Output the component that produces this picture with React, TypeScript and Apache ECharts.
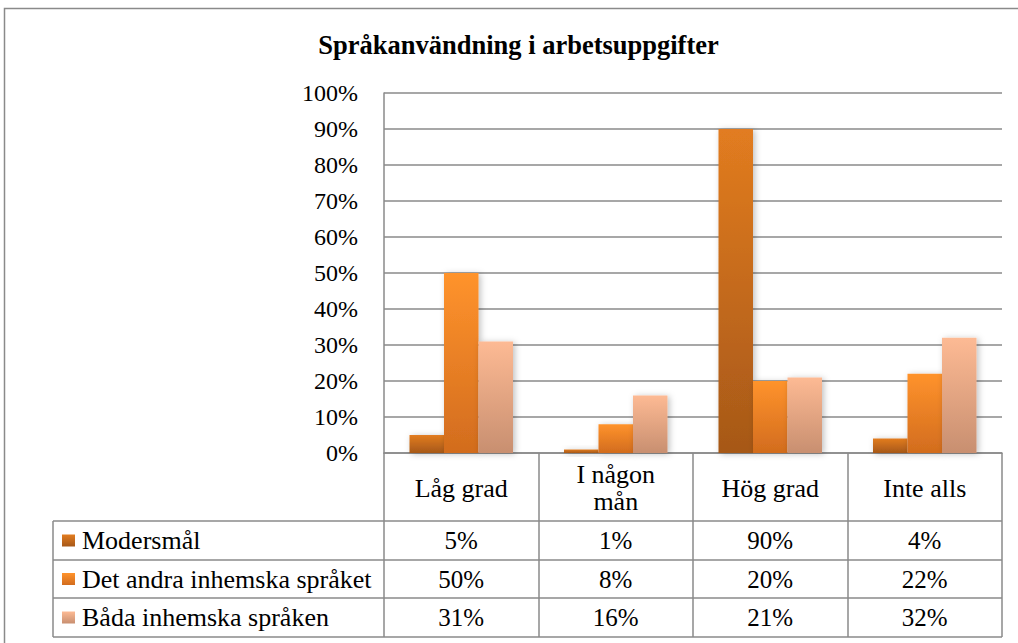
import React, { useEffect, useRef } from "react";
import * as echarts from "echarts";

// ---- data ----
const chartTitle = "Språkanvändning i arbetsuppgifter";
const categories = ["Låg grad", "I någon\nmån", "Hög grad", "Inte alls"];
const seriesNames = ["Modersmål", "Det andra inhemska språket", "Båda inhemska språken"];
const modersmal = [5, 1, 90, 4];
const andraSpraket = [50, 8, 20, 22];
const badaSpraken = [31, 16, 21, 32];
const yMax = 100;
const yInterval = 10;

// ---- styles ----
const FONT = "Liberation Serif";
const GRAY = "#8a8a8a";
const gradients = [
  ["#e27c20", "#a65818"],
  ["#ff932c", "#d26c1e"],
  ["#fdba94", "#c88f70"],
];

// ---- layout ----
const W = 1018;
const H = 643;
const gridL = 384;
const gridR = 1002;
const gridT = 93;
const gridB = 453;
const tableL = 53;
const rowEdges = [453, 521, 560, 598, 637];

const grad = (c: string[]) =>
  new echarts.graphic.LinearGradient(0, 0, 0, 1, [
    { offset: 0, color: c[0] },
    { offset: 1, color: c[1] },
  ]);

export default function App() {
  const ref = useRef<HTMLDivElement>(null);

  useEffect(() => {
    if (!ref.current) return;
    const chart = echarts.init(ref.current, null, { renderer: "svg", width: W, height: H });
    const allSeries = [modersmal, andraSpraket, badaSpraken];
    const cellW = (gridR - gridL) / categories.length;

    const graphics: any[] = [];
    graphics.push({
      type: "rect",
      shape: { x: 4.5, y: 8.5, width: 1200, height: 800 },
      style: { fill: "none", stroke: GRAY, lineWidth: 1.5 },
      z: 0,
    });
    graphics.push({
      type: "text",
      x: 518.5,
      y: 45,
      style: {
        text: chartTitle,
        fontFamily: FONT,
        fontSize: 26.5,
        fontWeight: "bold",
        fill: "#000",
        align: "center",
        verticalAlign: "middle",
      },
    });
    for (let r = 1; r < rowEdges.length; r++) {
      graphics.push({
        type: "line",
        shape: { x1: tableL, y1: rowEdges[r], x2: gridR, y2: rowEdges[r] },
        style: { stroke: GRAY, lineWidth: 1.5 },
      });
    }
    graphics.push({
      type: "line",
      shape: { x1: tableL, y1: rowEdges[1], x2: tableL, y2: rowEdges[rowEdges.length - 1] },
      style: { stroke: GRAY, lineWidth: 1.5 },
    });
    seriesNames.forEach((name, s) => {
      const yc = (rowEdges[s + 1] + rowEdges[s + 2]) / 2;
      graphics.push({
        type: "rect",
        shape: { x: 62, y: yc - 6, width: 13, height: 12 },
        style: { fill: grad(gradients[s]) },
      });
      graphics.push({
        type: "text",
        x: 82,
        y: yc,
        style: {
          text: name,
          fontFamily: FONT,
          fontSize: 26,
          fill: "#000",
          align: "left",
          verticalAlign: "middle",
        },
      });
      allSeries[s].forEach((v, i) => {
        graphics.push({
          type: "text",
          x: gridL + (i + 0.5) * cellW,
          y: yc,
          style: {
            text: `${v}%`,
            fontFamily: FONT,
            fontSize: 25,
            fill: "#000",
            align: "center",
            verticalAlign: "middle",
          },
        });
      });
    });

    chart.setOption({
      animation: false,
      backgroundColor: "#fff",
      grid: { left: gridL, top: gridT, width: gridR - gridL, height: gridB - gridT, containLabel: false },
      xAxis: {
        type: "category",
        data: categories,
        axisLine: { show: true, lineStyle: { color: GRAY, width: 1.5 } },
        axisTick: {
          show: true,
          length: rowEdges[rowEdges.length - 1] - gridB,
          lineStyle: { color: GRAY, width: 1.5 },
        },
        axisLabel: {
          fontFamily: FONT,
          fontSize: 26,
          color: "#000",
          margin: 35,
          verticalAlign: "middle",
          lineHeight: 27,
        },
      },
      yAxis: {
        type: "value",
        min: 0,
        max: yMax,
        interval: yInterval,
        axisLine: { show: true, lineStyle: { color: GRAY, width: 1.5 } },
        axisTick: { show: false },
        splitLine: { show: true, lineStyle: { color: GRAY, width: 1.5 } },
        axisLabel: {
          formatter: "{value}%",
          fontFamily: FONT,
          fontSize: 24,
          color: "#000",
          margin: 26,
        },
      },
      series: allSeries.map((d, s) => ({
        name: seriesNames[s],
        type: "bar",
        data: d,
        barWidth: 34.5,
        barGap: "0%",
        itemStyle: {
          color: grad(gradients[s]),
          shadowBlur: 6,
          shadowColor: "rgba(0,0,0,0.25)",
          shadowOffsetX: 2,
          shadowOffsetY: 1,
        },
      })),
      graphic: graphics,
    });
    return () => chart.dispose();
  }, []);

  return (
    <div
      ref={ref}
      style={{ position: "fixed", left: 0, top: 0, width: W, height: H, background: "#fff" }}
    />
  );
}
